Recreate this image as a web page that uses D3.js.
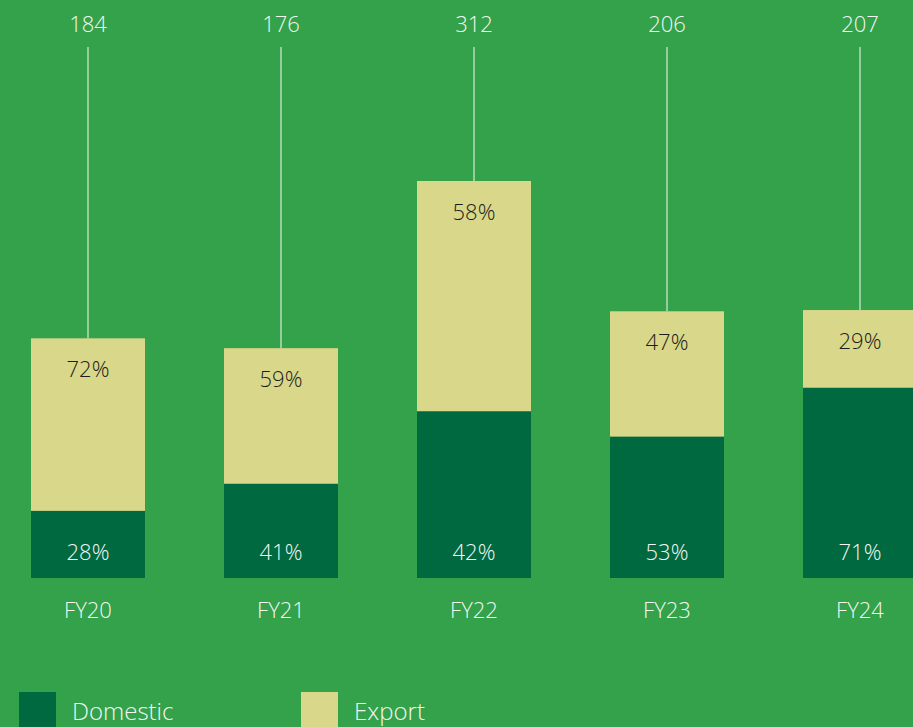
<!DOCTYPE html>
<html>
<head>
<meta charset="utf-8">
<script src="https://cdn.jsdelivr.net/npm/d3@7"></script>
<style>
  html, body { margin: 0; padding: 0; background: #33a24b; overflow: hidden; }
  svg { display: block; }
  text { font-family: "Open Sans", "Lato", sans-serif; font-weight: 300; }
</style>
</head>
<body>
<svg id="svg" width="913" height="727"></svg>
<script>
const years = ['FY20', 'FY21', 'FY22', 'FY23', 'FY24']
const totals = [184, 176, 312, 206, 207]
const domestic = [28, 41, 42, 53, 71]
const exportShare = [72, 59, 58, 47, 29]
const legendLabels = ['Domestic', 'Export']

const colors = { domestic: '#006940', export: '#d8d78a', text: '#f2f7f2', dark: '#1d1d1b', line: '#d6ecd6' }

const $svg = d3.select('#svg')

// bar centres
const x = d3.scalePoint()
  .domain(years)
  .range([88, 860])

const y = d3.scaleLinear()
  .domain([-11, 312])
  .range([578, 181])

const bw = 114
const cx = d => x(d)

const rows = years.map((year, i) => ({
  year,
  total: totals[i],
  dom: domestic[i],
  exp: exportShare[i]
}))

const barH = d => y(-11) - y(d.total)

const g = $svg.append('g')

// connector lines from the total labels
g.selectAll('line.total')
  .data(rows)
  .join('line')
  .attr('x1', d => cx(d.year))
  .attr('x2', d => cx(d.year))
  .attr('y1', 47)
  .attr('y2', d => y(d.total))
  .attr('stroke', colors.line)
  .attr('stroke-width', 1.2)

// export part (full bar), domestic on top of it
g.selectAll('rect.exp')
  .data(rows)
  .join('rect')
  .attr('x', d => cx(d.year) - bw / 2)
  .attr('y', d => y(d.total))
  .attr('width', bw)
  .attr('height', d => barH(d))
  .attr('fill', colors.export)

g.selectAll('rect.dom')
  .data(rows)
  .join('rect')
  .attr('x', d => cx(d.year) - bw / 2)
  .attr('y', d => y(-11) - barH(d) * d.dom / 100)
  .attr('width', bw)
  .attr('height', d => barH(d) * d.dom / 100)
  .attr('fill', colors.domestic)

const label = (sel, cls) => sel.selectAll('text.' + cls)
  .data(rows)
  .join('text')
  .attr('class', cls)
  .attr('text-anchor', 'middle')
  .attr('font-size', 22)

label(g, 'tot')
  .attr('x', d => cx(d.year))
  .attr('y', 32)
  .attr('fill', colors.text)
  .text(d => d.total)

label(g, 'expl')
  .attr('x', d => cx(d.year))
  .attr('y', d => y(d.total) + 39)
  .attr('fill', colors.dark)
  .text(d => d.exp + '%')

label(g, 'doml')
  .attr('x', d => cx(d.year))
  .attr('y', 560)
  .attr('fill', colors.text)
  .text(d => d.dom + '%')

label(g, 'cat')
  .attr('x', d => cx(d.year))
  .attr('y', 618)
  .attr('fill', colors.text)
  .text(d => d.year)

// legend
const legend = $svg.append('g')
  .selectAll('g')
  .data(legendLabels)
  .join('g')
  .attr('transform', (d, i) => `translate(${19 + i * 282},692)`)

legend.append('rect')
  .attr('width', 37)
  .attr('height', 40)
  .attr('fill', (d, i) => i === 0 ? colors.domestic : colors.export)

legend.append('text')
  .attr('x', 53)
  .attr('y', 28)
  .attr('font-size', 24)
  .attr('fill', colors.text)
  .text(d => d)
</script>
</body>
</html>
